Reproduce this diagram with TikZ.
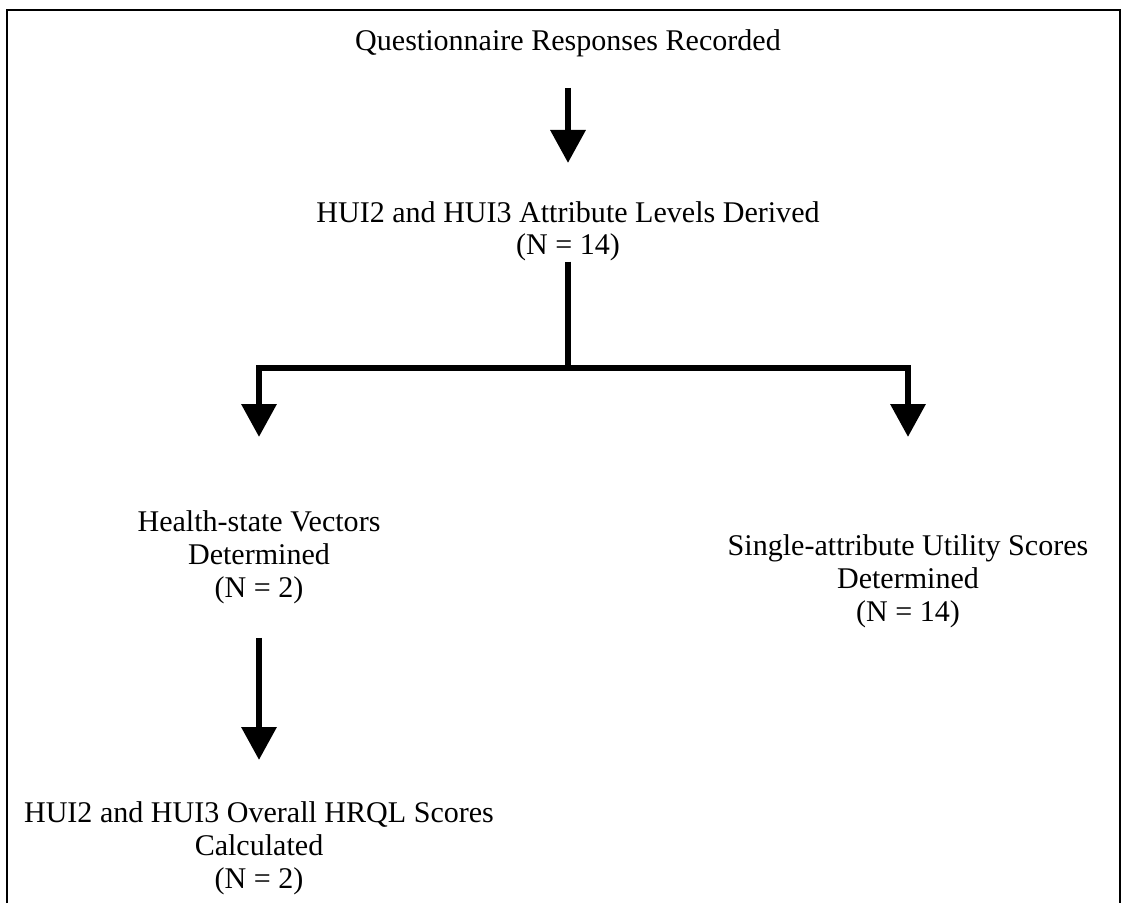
\documentclass[tikz,border=0pt]{standalone}
\usepackage{fontspec}
\setmainfont{Liberation Serif}
\usetikzlibrary{arrows.meta, calc, positioning}

\begin{document}
\begin{tikzpicture}[
        txt/.style={align=center, inner sep=0pt, anchor=base,
                    font=\fontsize{17.1}{18.5}\selectfont},
        thickline/.style={line width=0.13cm},
        flow/.style={thickline, -{Triangle[width=0.68cm, length=0.66cm]}},
        splitflow/.style={thickline, {Triangle[width=0.68cm, length=0.66cm]}-{Triangle[width=0.68cm, length=0.66cm]}}
    ]
                    \useasboundingbox (0,0) rectangle (22.52,18.06);
                    % frame
                    \draw[line width=0.04cm] (0.14,0) -- (0.14,17.86) -- (22.40,17.86) -- (22.40,0);

                    \node[txt] (quest) at (11.36, 17.04) {Questionnaire Responses Recorded};
                    \node[txt] (attr) at (11.36, 12.96) {HUI2 and HUI3 Attribute Levels Derived\\(N = 14)};
                    \node[txt] (health) at (5.18, 6.12) {Health-state Vectors\\Determined\\(N = 2)};
                    \node[txt] (single) at (18.16, 5.64) {Single-attribute Utility Scores\\Determined\\(N = 14)};
                    \node[txt] (hrql) at (5.18, 0.30) {HUI2 and HUI3 Overall HRQL Scores\\Calculated\\(N = 2)};

                    \coordinate (split) at (11.36, 10.70);

                    \draw[flow] ([yshift=-0.74cm]quest.base) -- ([yshift=1.84cm]attr.base);
                    \draw[thickline] (attr.south) -- (split);
                    \draw[splitflow] ([yshift=3.20cm]health.base) -- (health |- split)
                        -- (single |- split) -- ([yshift=3.68cm]single.base);
                    \draw[flow] ([yshift=-0.68cm]health.south) -- ([yshift=2.56cm]hrql.base);
                \end{tikzpicture}
\end{document}
